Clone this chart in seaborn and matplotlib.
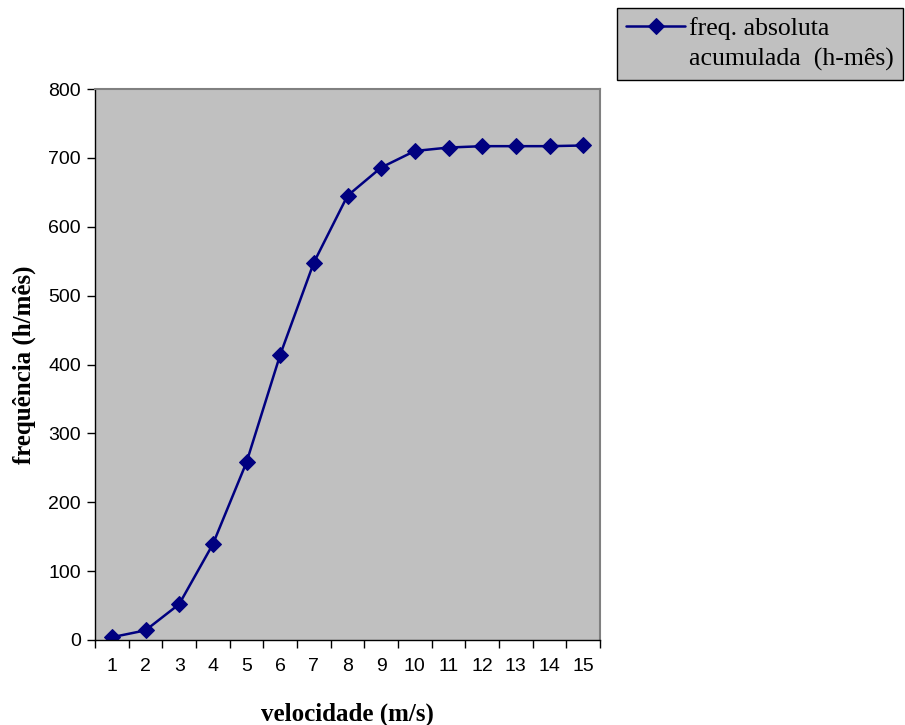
import matplotlib
matplotlib.use('Agg')
import matplotlib.pyplot as plt
from matplotlib.lines import Line2D
import seaborn as sns
import pandas as pd

velocidade = list(range(1, 16))
freq_acumulada = [4, 14, 52, 139, 258, 414, 548, 645, 686, 710, 715, 717, 717, 717, 718]
legenda = ['freq. absoluta', 'acumulada  (h-mês)']

df = pd.DataFrame({'velocidade': velocidade, 'freq': freq_acumulada})

sns.set_style('white')
plt.rcParams['font.family'] = ['Liberation Sans', 'DejaVu Sans']
plt.rcParams['text.color'] = 'black'
plt.rcParams['axes.labelcolor'] = 'black'
plt.rcParams['xtick.color'] = 'black'
plt.rcParams['ytick.color'] = 'black'

fig = plt.figure(figsize=(9.05, 7.25), dpi=100)
ax = fig.add_axes([95 / 905, 85 / 725, 505 / 905, 551 / 725])

sns.lineplot(data=df, x='velocidade', y='freq', ax=ax, color='#000080',
             marker='D', markersize=8, markeredgecolor='#000080', linewidth=1.8,
             legend=False)

ax.set_facecolor('#C0C0C0')
ax.set_xlim(0.5, 15.5)
ax.set_ylim(0, 800)
ax.set_yticks(range(0, 801, 100))
ax.set_xticks(velocidade)
ax.set_xticks([v + 0.5 for v in range(0, 16)], minor=True)
ax.tick_params(axis='x', which='major', bottom=True, length=0, pad=13, labelsize=14)
ax.tick_params(axis='x', which='minor', bottom=True, length=6, width=1, direction='out')
ax.tick_params(axis='y', left=True, length=6, width=1, direction='out', labelsize=14, pad=4)
ax.grid(False)

for side in ['left', 'bottom']:
    ax.spines[side].set_color('black')
    ax.spines[side].set_linewidth(1)
for side in ['top', 'right']:
    ax.spines[side].set_color('#808080')
    ax.spines[side].set_linewidth(1.5)

ax.set_xlabel('velocidade (m/s)', fontfamily='Liberation Serif', fontweight='bold',
              fontsize=18, labelpad=20)
ax.set_ylabel('frequência (h/mês)', fontfamily='Liberation Serif', fontweight='bold',
              fontsize=18, labelpad=9)

# legend: handle aligned with the first text line, as in the original
h_line = ax.get_lines()[0]
h_blank = Line2D([], [], linestyle='none', marker=None)
leg = ax.legend([h_line, h_blank], legenda, loc='upper left',
                bbox_to_anchor=(617 / 905, 1 - 8 / 725),
                bbox_transform=fig.transFigure, frameon=True, fancybox=False,
                prop={'family': 'Liberation Serif', 'size': 18.5},
                handlelength=2.3, borderpad=0.35, handletextpad=0.15,
                labelspacing=0.3, borderaxespad=0)
leg.get_frame().set_facecolor('#C0C0C0')
leg.get_frame().set_edgecolor('black')
leg.get_frame().set_linewidth(1)
leg.get_frame().set_alpha(1)

fig.savefig('out.png', dpi=100)
